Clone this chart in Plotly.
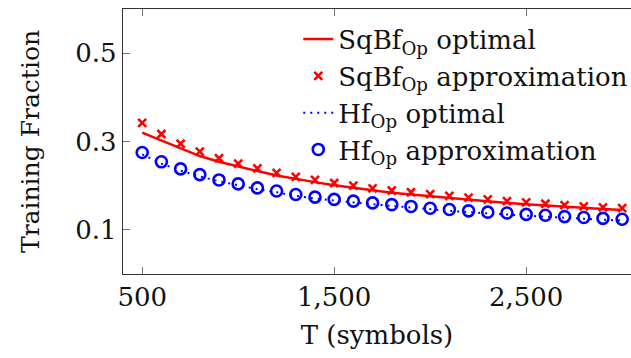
import plotly.graph_objects as go

T = [500, 600, 700, 800, 900, 1000, 1100, 1200, 1300, 1400, 1500, 1600, 1700,
     1800, 1900, 2000, 2100, 2200, 2300, 2400, 2500, 2600, 2700, 2800, 2900, 3000]

sqbf_optimal = [0.320, 0.302, 0.284, 0.267, 0.254, 0.243, 0.233, 0.223, 0.215, 0.208,
                0.201, 0.195, 0.189, 0.184, 0.180, 0.176, 0.172, 0.168, 0.164, 0.161,
                0.158, 0.155, 0.152, 0.149, 0.147, 0.145]
sqbf_approx = [0.342, 0.317, 0.295, 0.277, 0.262, 0.250, 0.239, 0.229, 0.220, 0.213,
               0.206, 0.200, 0.194, 0.189, 0.185, 0.181, 0.177, 0.173, 0.169, 0.165,
               0.162, 0.159, 0.156, 0.153, 0.151, 0.149]
hf_optimal = [0.271, 0.250, 0.234, 0.221, 0.210, 0.201, 0.192, 0.185, 0.177, 0.171,
              0.166, 0.162, 0.158, 0.154, 0.150, 0.146, 0.143, 0.140, 0.137, 0.135,
              0.132, 0.130, 0.127, 0.125, 0.123, 0.121]
hf_approx = [0.275, 0.254, 0.238, 0.225, 0.213, 0.204, 0.195, 0.188, 0.180, 0.174,
             0.169, 0.165, 0.161, 0.157, 0.153, 0.149, 0.146, 0.143, 0.140, 0.138,
             0.135, 0.133, 0.130, 0.128, 0.126, 0.124]

x_tickvals = [500, 1500, 2500]
x_ticktext = ["500", "1,500", "2,500"]
y_tickvals = [0.1, 0.3, 0.5]
y_ticktext = ["0.1", "0.3", "0.5"]

FONT = "DejaVu Serif"
RED = "#ff0000"
BLUE = "#0000ff"

fig = go.Figure()
fig.add_trace(go.Scatter(x=T, y=sqbf_optimal, mode="lines",
                         name="SqBf<sub>Op</sub> optimal",
                         line=dict(color=RED, width=2.5)))
fig.add_trace(go.Scatter(x=T, y=sqbf_approx, mode="markers",
                         name="SqBf<sub>Op</sub> approximation",
                         marker=dict(symbol="x-thin", size=8, color=RED,
                                     line=dict(color=RED, width=2.6))))
fig.add_trace(go.Scatter(x=T, y=hf_optimal, mode="lines",
                         name="Hf<sub>Op</sub> optimal",
                         line=dict(color=BLUE, width=2, dash="2px,5px")))
fig.add_trace(go.Scatter(x=T, y=hf_approx, mode="markers",
                         name="Hf<sub>Op</sub> approximation",
                         marker=dict(symbol="circle-open", size=11, color=BLUE,
                                     line=dict(color=BLUE, width=2.6))))

fig.update_layout(
    width=631, height=358,
    margin=dict(l=123, r=0, t=9, b=84, autoexpand=False),
    paper_bgcolor="white", plot_bgcolor="white",
    font=dict(family=FONT, size=26, color="#111"),
    showlegend=True,
    legend=dict(x=0.345, y=0.975, xanchor="left", yanchor="top",
                bgcolor="rgba(255,255,255,0)", borderwidth=0,
                font=dict(family=FONT, size=26), tracegroupgap=0),
    xaxis=dict(range=[400, 3046], tickvals=x_tickvals, ticktext=x_ticktext,
               automargin=False,
               showgrid=False, zeroline=False, showline=True, linecolor="#333",
               linewidth=1.3, mirror="ticks", ticks="inside", ticklen=7,
               tickcolor="#777", tickwidth=1, tickfont=dict(size=26),
               title=dict(text="T (symbols)", font=dict(size=26), standoff=14)),
    yaxis=dict(range=[0, 0.6], tickvals=y_tickvals, ticktext=y_ticktext,
               automargin=False,
               showgrid=False, zeroline=False, showline=True, linecolor="#333",
               linewidth=1.3, mirror=False, ticks="inside", ticklen=7,
               tickcolor="#777", tickwidth=1, tickfont=dict(size=26),
               title=dict(text="Training Fraction", font=dict(size=25), standoff=28)),
)

fig.write_html("out.html", config={"displayModeBar": False},
               post_script="document.body.style.margin='0px';")
